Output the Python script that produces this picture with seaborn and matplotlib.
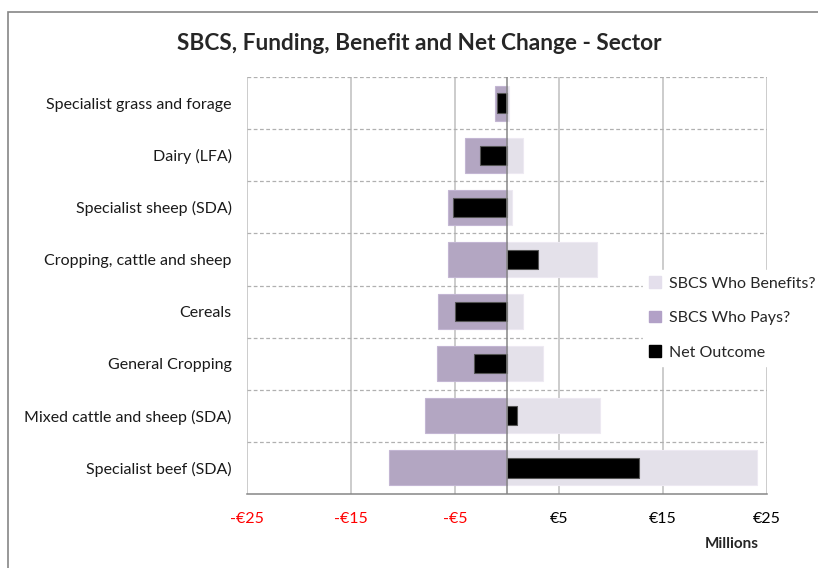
import matplotlib
matplotlib.use("Agg")
import matplotlib.pyplot as plt
from matplotlib.patches import Rectangle, Patch
import pandas as pd
import seaborn as sns

sectors = [
    "Specialist grass and forage",
    "Dairy (LFA)",
    "Specialist sheep (SDA)",
    "Cropping, cattle and sheep",
    "Cereals",
    "General Cropping",
    "Mixed cattle and sheep (SDA)",
    "Specialist beef (SDA)",
]
who_benefits = [0.2, 1.5, 0.45, 8.65, 1.55, 3.5, 8.9, 24.0]
who_pays = [-1.2, -4.0, -5.65, -5.65, -6.65, -6.7, -7.85, -11.3]
net_outcome = [-1.0, -2.6, -5.2, 2.95, -5.0, -3.2, 1.0, 12.7]
xticks = [-25, -15, -5, 5, 15, 25]
xtick_labels = ["-€25", "-€15", "-€5", "€5", "€15", "€25"]

df = pd.DataFrame({"sector": sectors, "benefit": who_benefits,
                   "pays": who_pays, "net": net_outcome})

sns.set_style("white")
plt.rcParams["font.family"] = ["Lato", "DejaVu Sans"]

fig = plt.figure(figsize=(8.18, 5.68), dpi=100)
ax = fig.add_axes([247 / 818, 1 - 494 / 568, 520 / 818, 417 / 568])

c_ben, c_pay, c_net = "#E4DFEC", "#B2A1C7", "#000000"
sns.barplot(data=df, y="sector", x="benefit", order=sectors, orient="h",
            color=c_ben, width=0.67, edgecolor="#EDE9F2", linewidth=0.8, ax=ax, zorder=2)
sns.barplot(data=df, y="sector", x="pays", order=sectors, orient="h",
            color=c_pay, width=0.67, edgecolor="#C3B6D3", linewidth=0.8, ax=ax, zorder=2)
sns.barplot(data=df, y="sector", x="net", order=sectors, orient="h",
            color=c_net, width=0.37, edgecolor="#555555", linewidth=0.8, ax=ax, zorder=3)

ax.set_xlim(-25, 25)
ax.set_ylim(len(sectors) - 0.5, -0.5)
ax.set_xticks(xticks)
ax.set_xticklabels(xtick_labels, fontsize=11.5)
for lab, v in zip(ax.get_xticklabels(), xticks):
    lab.set_color("red" if v < 0 else "black")
ax.tick_params(axis="x", length=5, width=1, color="#868686", direction="out", pad=8)
ax.tick_params(axis="y", length=0, pad=11, labelsize=11.5, labelcolor="#1a1a1a")

for v in xticks:
    ax.axvline(v, color="#BFBFBF", lw=1.1, zorder=1)
for k in range(len(sectors)):
    ax.axhline(k - 0.5, color="#B0B0B0", lw=0.9, ls=(0, (3, 2)), zorder=1)
ax.axvline(0, color="#868686", lw=1.1, zorder=4)

for s in ["top", "right", "left"]:
    ax.spines[s].set_visible(False)
ax.spines["bottom"].set_color("#868686")
ax.spines["bottom"].set_linewidth(1.1)
ax.set_xlabel("")
ax.set_ylabel("")

fig.text(419 / 818, 1 - 43 / 568,
         "SBCS, Funding, Benefit and Net Change - Sector",
         ha="center", va="center", fontsize=16.3, fontweight="bold")
fig.text(732 / 818, 1 - 544 / 568, "Millions", ha="center", va="center",
         fontsize=11, fontweight="bold")

handles = [Patch(facecolor=c_ben, edgecolor=c_ben, label="SBCS Who Benefits?"),
           Patch(facecolor=c_pay, edgecolor=c_pay, label="SBCS Who Pays?"),
           Patch(facecolor=c_net, edgecolor=c_net, label="Net Outcome")]
leg = fig.legend(handles=handles, loc="upper left",
                 bbox_to_anchor=(643 / 818, 1 - 270 / 568), frameon=True,
                 fontsize=11.5, handlelength=0.75, handleheight=0.75,
                 handletextpad=0.5, labelspacing=1.25, borderpad=0.4,
                 fancybox=False, borderaxespad=0)
leg.get_frame().set_edgecolor("white")
leg.get_frame().set_facecolor("white")
leg.get_frame().set_alpha(1)
leg.set_zorder(10)

fig.patches.append(Rectangle((8 / 818, -0.1), 1.0, 1 - 12 / 568 + 0.1,
                             transform=fig.transFigure, fill=False,
                             edgecolor="#868686", lw=1.2))

fig.savefig("out.png", dpi=100)
